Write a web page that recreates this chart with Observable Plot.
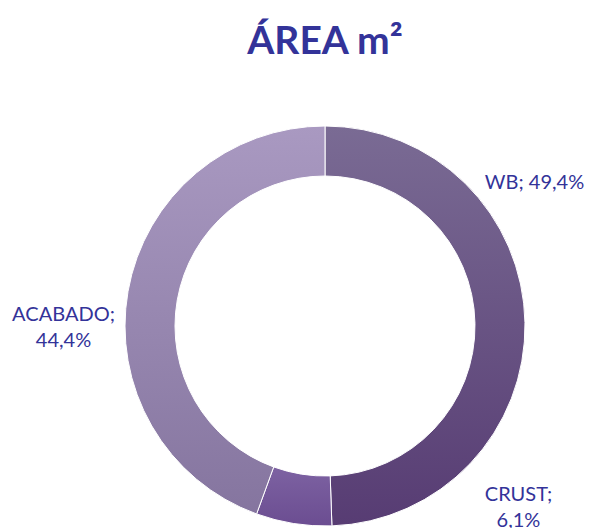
<!DOCTYPE html>
<html>
<head>
<meta charset="utf-8">
<script src="https://cdn.jsdelivr.net/npm/d3@7"></script>
<script src="https://cdn.jsdelivr.net/npm/@observablehq/plot@0.6"></script>
<style>
  html, body { margin: 0; padding: 0; background: #fff; }
  #wrap { position: relative; width: 589px; height: 528px; overflow: hidden; }
  #title { position: absolute; left: 0; top: 12px; width: 650px; text-align: center;
           font-family: Lato, "Open Sans", sans-serif; font-weight: 700; font-size: 39px;
           color: #333399; line-height: 54px; }
  #chart { position: absolute; left: 0; top: 80px; }
</style>
</head>
<body>
<div id="wrap">
  <div id="title">ÁREA m²</div>
  <div id="chart"></div>
</div>
<script>
const categories = ["WB", "CRUST", "ACABADO"];
const values = [49.4, 6.1, 44.4];
const labels = ["WB; 49,4%", "CRUST;\n6,1%", "ACABADO;\n44,4%"];
const topColors = ["#7a6b94", "#7d62a2", "#a999c1"];
const bottomColors = ["#573c73", "#6b4d91", "#85759f"];

const data = categories.map((c, i) => ({category: c, value: values[i], label: labels[i], i}));
const pie = d3.pie().value(d => d.value).sort(null)(data);

// label anchor positions in the unit plane (chart units, radius = 1)
const labelPos = [
  {x: 1.045, y: 0.73},
  {x: 0.965, y: -0.895},
  {x: -1.31, y: 0.005}
];
const labelData = data.map((d, i) => ({...d, x: labelPos[i].x, y: labelPos[i].y}));

const W = 589, H = 448;
const cx = 325, cy = 246, R = 200;

const donut = (index, scales, values, dimensions, context) => {
  const ns = "http://www.w3.org/2000/svg";
  const g = document.createElementNS(ns, "g");
  const defs = document.createElementNS(ns, "defs");
  g.appendChild(defs);
  const x0 = scales.x(0), y0 = scales.y(0);
  const r = scales.x(1) - scales.x(0);
  const arc = d3.arc().innerRadius(r * 0.75).outerRadius(r);
  pie.forEach((p, i) => {
    const lg = document.createElementNS(ns, "linearGradient");
    lg.setAttribute("id", "grad" + i);
    lg.setAttribute("x1", "0"); lg.setAttribute("y1", "0");
    lg.setAttribute("x2", "0"); lg.setAttribute("y2", "1");
    const s1 = document.createElementNS(ns, "stop");
    s1.setAttribute("offset", "0"); s1.setAttribute("stop-color", topColors[i]);
    const s2 = document.createElementNS(ns, "stop");
    s2.setAttribute("offset", "1"); s2.setAttribute("stop-color", bottomColors[i]);
    lg.appendChild(s1); lg.appendChild(s2);
    defs.appendChild(lg);
    const path = document.createElementNS(ns, "path");
    path.setAttribute("d", arc(p));
    path.setAttribute("transform", `translate(${x0},${y0})`);
    path.setAttribute("fill", `url(#grad${i})`);
    path.setAttribute("stroke", "#ffffff");
    path.setAttribute("stroke-width", "1");
    g.appendChild(path);
  });
  return g;
};

const chart = Plot.plot({
  width: W,
  height: H,
  margin: 0,
  x: {domain: [-cx / R, (W - cx) / R], axis: null},
  y: {domain: [-(H - cy) / R, cy / R], axis: null},
  style: {background: "#fff", overflow: "visible"},
  marks: [
    donut,
    Plot.text(labelData, {
      x: "x", y: "y", text: "label",
      fill: "#333399",
      fontSize: 20,
      fontFamily: "Lato, 'Open Sans', sans-serif",
      lineHeight: 1.3,
      textAnchor: "middle"
    })
  ]
});
document.getElementById("chart").appendChild(chart);
</script>
</body>
</html>
